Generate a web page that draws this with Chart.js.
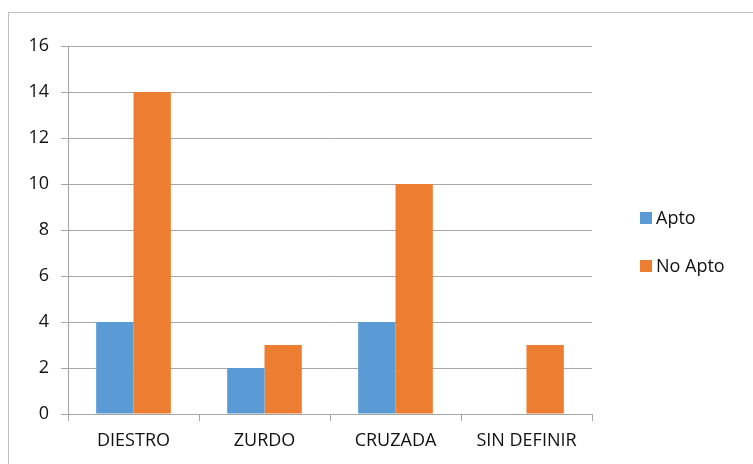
<!DOCTYPE html>
<html>
<head>
<meta charset="utf-8">
<script src="https://cdn.jsdelivr.net/npm/chart.js@4.4.0/dist/chart.umd.min.js"></script>
<style>
  html, body { margin: 0; padding: 0; background: #fff; overflow: hidden; }
  #wrap { position: relative; width: 753px; height: 464px; }
  #frame { position: absolute; left: 8px; top: 12px; width: 800px; height: 500px;
           border-left: 1px solid #bfbfbf; border-top: 1px solid #bfbfbf; }
  canvas { position: absolute; left: 0; top: 0; }
</style>
</head>
<body>
<div id="wrap">
  <div id="frame"></div>
  <canvas id="chart" width="753" height="464"></canvas>
</div>
<script>
// datos
var categorias = ['DIESTRO', 'ZURDO', 'CRUZADA', 'SIN DEFINIR'];
var apto = [4, 2, 4, 0];
var noApto = [14, 3, 10, 3];
var yTicks = [0, 2, 4, 6, 8, 10, 12, 14, 16];

var FONT = "'Open Sans', sans-serif";

// leyenda dibujada a mano a la derecha
var legendaDerecha = {
  id: 'legendaDerecha',
  afterDraw: function(chart) {
    var ctx = chart.ctx;
    var ys = [218, 266];
    ctx.save();
    ctx.font = '18px ' + FONT;
    ctx.textBaseline = 'middle';
    chart.data.datasets.forEach(function(ds, i) {
      ctx.fillStyle = ds.backgroundColor;
      ctx.fillRect(640, ys[i] - 6, 12, 12);
      ctx.fillStyle = '#111';
      ctx.fillText(ds.label, 656, ys[i] + 1);
    });
    ctx.restore();
  }
};

new Chart(document.getElementById('chart'), {
  type: 'bar',
  data: {
    labels: categorias,
    datasets: [
      { label: 'Apto', data: apto, backgroundColor: '#5B9BD5' },
      { label: 'No Apto', data: noApto, backgroundColor: '#ED7D31' }
    ]
  },
  options: {
    responsive: false,
    animation: false,
    devicePixelRatio: 1,
    layout: { padding: { left: 0, right: 161, top: 46, bottom: 0 } },
    datasets: { bar: { categoryPercentage: 0.57, barPercentage: 1 } },
    plugins: {
      legend: { display: false },
      tooltip: { enabled: false }
    },
    scales: {
      x: {
        grid: { display: true, drawOnChartArea: false, color: '#a6a6a6', tickLength: 7, offset: true },
        border: { color: '#a6a6a6' },
        ticks: { color: '#111', font: { family: FONT, size: 18 }, padding: 9 },
        afterFit: function(s) { s.height = 50; }
      },
      y: {
        min: 0, max: 16,
        afterBuildTicks: function(s) { s.ticks = yTicks.map(function(v) { return { value: v }; }); },
        grid: { color: '#a6a6a6', tickLength: 7 },
        border: { color: '#a6a6a6' },
        ticks: { color: '#111', font: { family: FONT, size: 18 }, padding: 12 },
        afterFit: function(s) { s.width = 68; }
      }
    }
  },
  plugins: [legendaDerecha]
});
</script>
</body>
</html>
